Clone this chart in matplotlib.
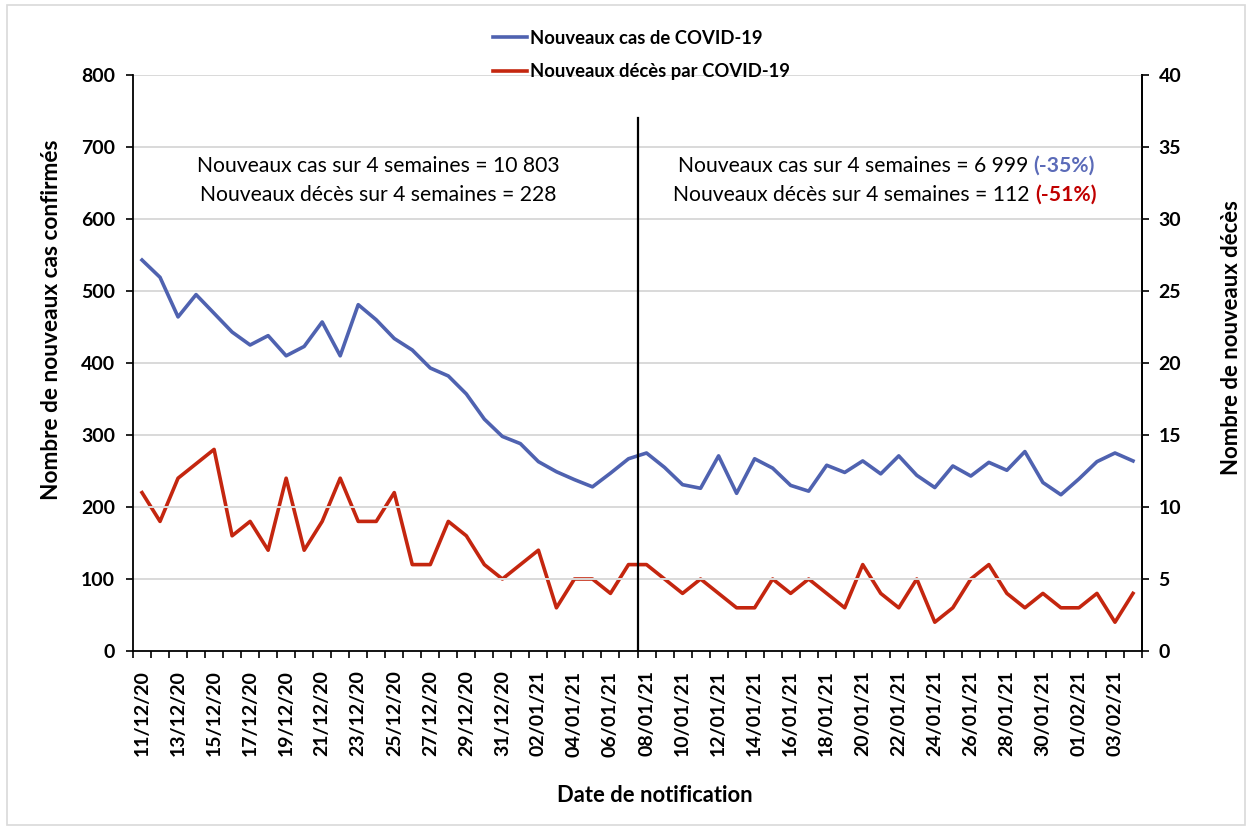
import numpy as np
import pandas as pd
import matplotlib
matplotlib.use('Agg')
import matplotlib.pyplot as plt
from matplotlib.lines import Line2D
from matplotlib.patches import Rectangle

plt.rcParams['font.family'] = ['Lato', 'DejaVu Sans']

# daily notifications, 11/12/2020 -> 04/02/2021
dates = pd.date_range('2020-12-11', '2021-02-04', freq='D')

cases = [543, 519, 464, 495, 469, 443, 425, 438, 410, 423, 457, 410, 481, 460,
         434, 418, 393, 382, 357, 322, 298, 288, 263, 249, 238, 228, 247, 267,
         275, 255, 231, 226, 271, 219, 267, 254, 230, 222, 258, 248, 264, 246,
         271, 244, 227, 257, 243, 262, 251, 277, 234, 217, 239, 263, 275, 264]

deaths = [11, 9, 12, 13, 14, 8, 9, 7, 12, 7, 9, 12, 9, 9,
          11, 6, 6, 9, 8, 6, 5, 6, 7, 3, 5, 5, 4, 6,
          6, 5, 4, 5, 4, 3, 3, 5, 4, 5, 4, 3, 6, 4,
          3, 5, 2, 3, 5, 6, 4, 3, 4, 3, 3, 4, 2, 4]

blue = '#4F62B0'
red = '#C4260F'

x = np.arange(len(dates))
labels = [d.strftime('%d/%m/%y') for d in dates]

fig = plt.figure(figsize=(12.5, 8.3), dpi=100)
ax = fig.add_axes([133 / 1250, 1 - 651 / 830, (1142 - 133) / 1250, (651 - 75) / 830])
ax2 = ax.twinx()

ax.set_xlim(-0.5, len(dates) - 0.5)
ax.set_ylim(0, 800)
ax2.set_ylim(0, 40)
ax.set_yticks(range(0, 801, 100))
ax2.set_yticks(range(0, 41, 5))

# gridlines
for v in range(100, 801, 100):
    ax.axhline(v, color='#d9d9d9', lw=1.4, zorder=0)

ax.plot(x, cases, color=blue, lw=2.6, solid_joinstyle='round', zorder=3)
ax2.plot(x, deaths, color=red, lw=2.6, solid_joinstyle='round', zorder=3)

# 4-week split line
split = 27.5
ax.plot([split, split], [0, 740], color='black', lw=1.6, zorder=4)

ax.set_xticks(x[::2])
ax.set_xticklabels(labels[::2], rotation=90, fontweight='bold', fontsize=14)
ax.set_xticks(np.arange(-0.5, len(dates)), minor=True)
ax.tick_params(axis='x', which='major', length=0, pad=14)
ax.tick_params(axis='x', which='minor', length=5, width=1.2, direction='out')
ax.tick_params(axis='y', length=5, width=1.2, labelsize=14, pad=8)
ax2.tick_params(axis='y', length=5, width=1.2, labelsize=14, pad=7)
for lab in ax.get_yticklabels() + ax2.get_yticklabels():
    lab.set_fontweight('bold')

for a in (ax, ax2):
    a.spines['top'].set_visible(False)
    for s in ('left', 'right', 'bottom'):
        a.spines[s].set_linewidth(1.3)
ax2.spines['left'].set_visible(False)
ax2.spines['bottom'].set_visible(False)
ax.set_zorder(ax2.get_zorder() + 1)
ax.patch.set_visible(False)

fig.text(52 / 1250, 1 - 320 / 830, 'Nombre de nouveaux cas confirmés', rotation=90,
         ha='center', va='center', fontsize=16.3, fontweight='bold')
fig.text(1232 / 1250, 1 - 338 / 830, 'Nombre de nouveaux décès', rotation=90,
         ha='center', va='center', fontsize=15.9, fontweight='bold')
fig.text(655 / 1250, 1 - 795 / 830, 'Date de notification', ha='center', va='center',
         fontsize=15.8, fontweight='bold')

# summary texts
fs = 15.2
fig.text(378 / 1250, 1 - 166 / 830, 'Nouveaux cas sur 4 semaines = 10 803',
         ha='center', va='center', fontsize=fs)
fig.text(378 / 1250, 1 - 195 / 830, 'Nouveaux décès sur 4 semaines = 228',
         ha='center', va='center', fontsize=fs)

t1 = fig.text(678 / 1250, 1 - 166 / 830, 'Nouveaux cas sur 4 semaines = 6 999 ',
              ha='left', va='center', fontsize=fs)
ax.annotate('(-35%)', xy=(1, 0.5), xycoords=t1, va='center', ha='left',
            fontsize=fs, fontweight='bold', color='#5B6BB8', annotation_clip=False)
t2 = fig.text(673 / 1250, 1 - 195 / 830, 'Nouveaux décès sur 4 semaines = 112 ',
              ha='left', va='center', fontsize=fs)
ax.annotate('(-51%)', xy=(1, 0.5), xycoords=t2, va='center', ha='left',
            fontsize=fs, fontweight='bold', color='#C00000', annotation_clip=False)

# legend
handles = [Line2D([], [], color=blue, lw=2.6), Line2D([], [], color=red, lw=2.6)]
fig.legend(handles, ['Nouveaux cas de COVID-19', 'Nouveaux décès par COVID-19'],
           loc='upper left', bbox_to_anchor=(476 / 1250, 1 - 13 / 830), frameon=False,
           handlelength=1.85, handletextpad=0.2, labelspacing=0.9,
           prop={'weight': 'bold', 'size': 13.3})

fig.patches.append(Rectangle((7 / 1250, 5 / 830), 1 - 12 / 1250, 1 - 10 / 830,
                             transform=fig.transFigure, fill=False,
                             edgecolor='#d9d9d9', lw=1.2))

fig.savefig('out.png', dpi=100)
